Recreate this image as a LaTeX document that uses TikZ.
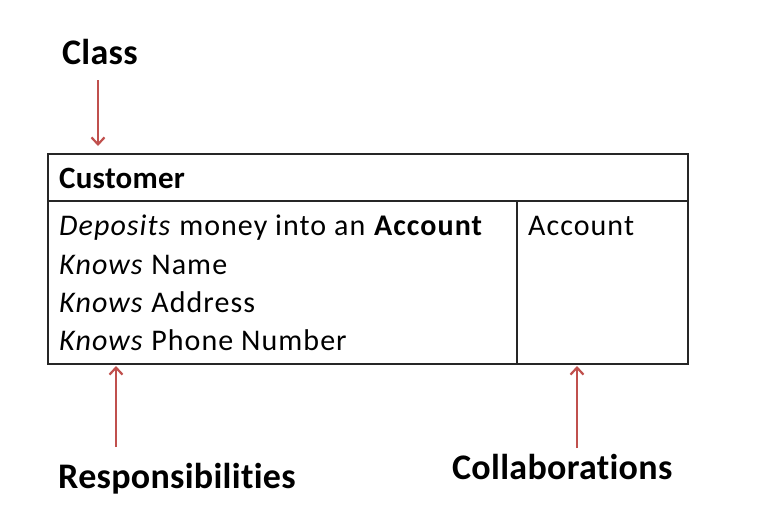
\documentclass[tikz,border=0pt]{standalone}
\usepackage{fontspec}
\setmainfont{Carlito}[Ligatures=NoCommon]
\newfontfamily\bodyfont{Carlito}[Ligatures=NoCommon,LetterSpace=3.5]
\newfontfamily\lblfont{Carlito}[Ligatures=NoCommon,LetterSpace=0.8]
\usetikzlibrary{arrows.meta}
\definecolor{arrowred}{HTML}{C0504D}
\tikzset{
  lbl/.style={anchor=base west, inner sep=0pt, font=\lblfont\fontsize{36}{40}\selectfont\bfseries},
  hdr/.style={anchor=base west, inner sep=0pt, font=\lblfont\fontsize{31}{36}\selectfont\bfseries},
  body/.style={anchor=base west, inner sep=0pt, font=\bodyfont\fontsize{30}{34}\selectfont},
  cell/.style={draw=black!85, line width=1.2pt},
  pointer/.style={draw=arrowred, line width=2.4pt, -{Straight Barb[length=7pt,width=13pt,line width=2.2pt]}}
}
\begin{document}
\begin{tikzpicture}[x=1pt,y=-1pt]
\useasboundingbox (0,0) rectangle (780,507);
% table
\draw[cell] (48,154) rectangle (688,364);
\draw[cell] (48,201) -- (688,201);
\draw[cell] (517,201) -- (517,364);
% texts
\node[lbl] (class) at (62,64) {Class};
\node[hdr] (customer) at (59,188) {Customer};
\node[body] (l1) at (59,235) {\textit{Deposits} money into an \textbf{Account}};
\node[body] (l2) at (59,274) {\textit{Knows} Name};
\node[body] (l3) at (59,312) {\textit{Knows} Address};
\node[body] (l4) at (59,350) {\textit{Knows} Phone Number};
\node[body] (acc) at (528,235) {Account};
\node[lbl] (resp) at (58,488) {Responsibilities};
\node[lbl] (coll) at (452,479) {Collaborations};
% arrow anchors
\coordinate (c1) at (98,80);
\coordinate (c2) at (98,146);
\coordinate (r1) at (116,447);
\coordinate (r2) at (116,366);
\coordinate (k1) at (577,448);
\coordinate (k2) at (577,366);
\draw[pointer] (c1) -- (c2);
\draw[pointer] (r1) -- (r2);
\draw[pointer] (k1) -- (k2);
\end{tikzpicture}
\end{document}
